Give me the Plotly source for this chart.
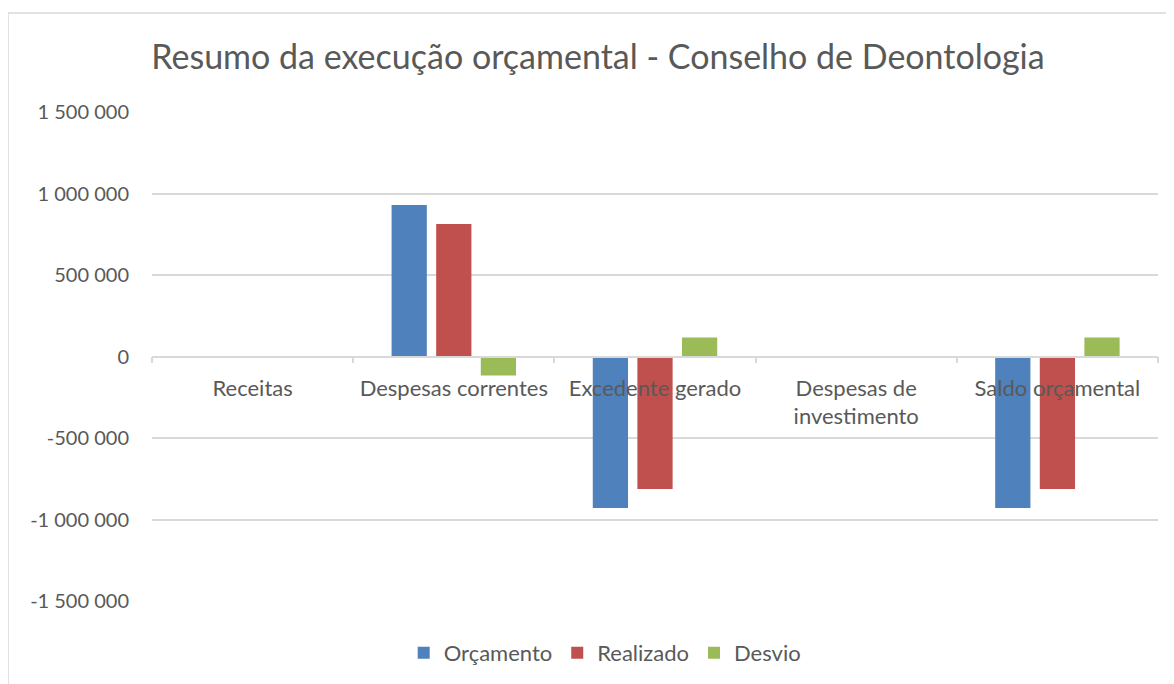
import plotly.graph_objects as go

categories = ["Receitas", "Despesas correntes", "Excedente gerado", "Despesas de<br>investimento", "Saldo orçamental"]
orcamento = [0, 930000, -930000, 0, -930000]
realizado = [0, 813000, -813000, 0, -813000]
desvio = [0, -117000, 117000, 0, 117000]

y_tickvals = [-1500000, -1000000, -500000, 0, 500000, 1000000, 1500000]
y_ticktext = ["-1 500 000", "-1 000 000", "-500 000", "0", "500 000", "1 000 000", "1 500 000"]

FONT = "Lato, 'Open Sans', sans-serif"
TXT = "#595959"
GRID = "#d9d9d9"

fig = go.Figure()
fig.add_trace(go.Bar(name="Orçamento", x=categories, y=orcamento, marker=dict(color="#4f81bd", line=dict(width=0))))
fig.add_trace(go.Bar(name="Realizado", x=categories, y=realizado, marker=dict(color="#c0504d", line=dict(width=0))))
fig.add_trace(go.Bar(name="Desvio", x=categories, y=desvio, marker=dict(color="#9bbb59", line=dict(width=0))))

# page body has an 8px margin, so margins are offset accordingly
fig.update_layout(
    width=1174, height=684,
    margin=dict(l=144, r=24, t=104, b=91),
    paper_bgcolor="white", plot_bgcolor="white",
    font=dict(family=FONT, color=TXT, size=20),
    title=dict(text="Resumo da execução orçamental - Conselho de Deontologia",
               x=(598-8)/1174, xanchor="center", y=1 - (57-8)/684, yanchor="middle",
               font=dict(size=34, color=TXT, family=FONT)),
    barmode="group", bargap=0.335, bargroupgap=0.21,
    showlegend=True,
    legend=dict(orientation="h", x=0.45, xanchor="center", y=(601-653)/489, yanchor="middle",
                font=dict(size=22, color=TXT), itemwidth=30, traceorder="normal"),
    xaxis=dict(anchor="free", position=0.5, showline=True, linecolor=GRID, linewidth=1.5,
               ticks="outside", tickson="boundaries", ticklen=6, tickcolor=GRID, tickwidth=1.5,
               showgrid=False, tickfont=dict(size=22, color=TXT), fixedrange=True,
               ticklabelstandoff=12),
    yaxis=dict(range=[-1500000, 1500000], tickvals=y_tickvals, ticktext=y_ticktext,
               showgrid=True, gridcolor=GRID, gridwidth=1.5, zeroline=True, zerolinecolor=GRID,
               zerolinewidth=1.5, showline=False, ticks="", ticklabelstandoff=22,
               tickfont=dict(size=20, color=TXT)),
)

fig.add_shape(type="rect", xref="paper", yref="paper",
              x0=(8-152)/1006, x1=(1180-152)/1006, y0=(601-700)/489, y1=(601-13)/489,
              line=dict(color=GRID, width=1.5), fillcolor="rgba(0,0,0,0)", layer="below")

fig.write_html("out.html")
